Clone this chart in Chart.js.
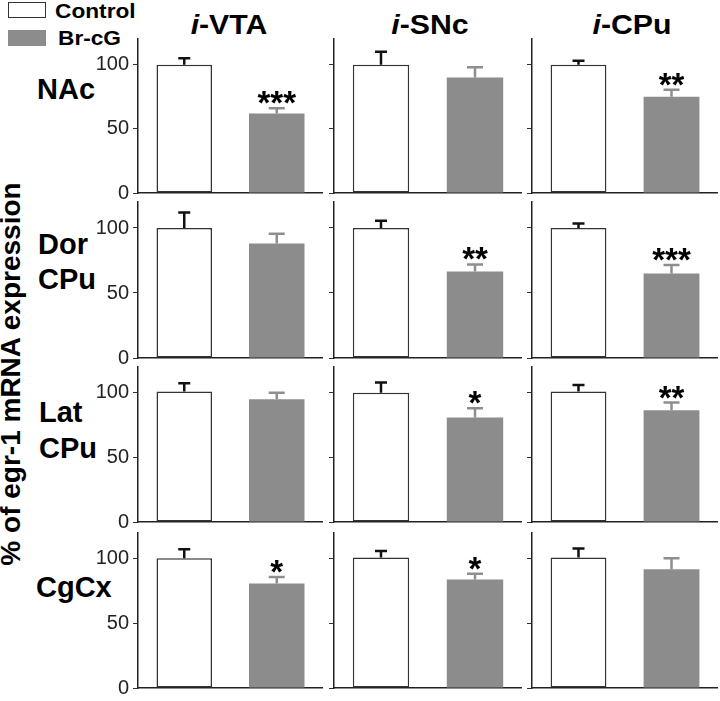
<!DOCTYPE html>
<html>
<head>
<meta charset="utf-8">
<script src="https://cdn.jsdelivr.net/npm/chart.js@4.4.1/dist/chart.umd.min.js"></script>
<style>
  body { margin: 0; background: #fff; }
  #fig { position: relative; width: 720px; height: 701px; overflow: hidden;
         font-family: "Liberation Sans", Arial, sans-serif; color: #000; }
  #fig canvas { position: absolute; }
  .txt { position: absolute; font-weight: bold; white-space: nowrap; }
  .key { position: absolute; box-sizing: border-box; }
</style>
</head>
<body>
<div id="fig"></div>
<script>
"use strict";

// Data: rows are brain regions, columns are injection sites
const regions = ["NAc", "Dor CPu", "Lat CPu", "CgCx"];
const sites = ["VTA", "SNc", "CPu"];
const groups = ["Control", "Br-cG"];
const tickValues = [0, 50, 100];
const yMax = 120;

const controlMean = [[100, 100, 100], [100, 100, 100], [101, 100, 101], [100.5, 101, 101]];
const controlErr = [[5, 10, 3], [12, 5.5, 3.5], [6.5, 8, 5], [7, 5, 7]];
const brcgMean = [[62, 90, 75], [88, 66.5, 65], [95, 81, 86.5], [81, 84, 92]];
const brcgErr = [[4, 8, 5.5], [7.5, 5.5, 6.5], [5, 7, 6], [5, 4.5, 8.5]];
const stars = [["***", "", "**"], ["", "**", "***"], ["", "*", "**"], ["*", "*", ""]];

// Layout of the panel grid (pixels)
const zeroY = [193, 358, 522, 688];
const plotH = [154, 156, 155, 155];
const axisX = [138, 334, 532];
const rightX = [323, 522, 718];
const padTop = 18, padBottom = 18;

const fig = document.getElementById("fig");

function addText(html, left, baseline, size, extra) {
  const d = document.createElement("div");
  d.className = "txt";
  d.innerHTML = html;
  d.style.fontSize = size + "px";
  d.style.lineHeight = size + "px";
  d.style.left = left + "px";
  d.style.top = (baseline - 0.8465 * size) + "px";
  if (extra) Object.assign(d.style, extra);
  fig.appendChild(d);
  return d;
}

// Legend
const boxC = document.createElement("div");
boxC.className = "key";
Object.assign(boxC.style, { left: "8px", top: "2px", width: "38px", height: "16px", border: "1.5px solid #333", background: "#fff" });
fig.appendChild(boxC);
const boxB = document.createElement("div");
boxB.className = "key";
Object.assign(boxB.style, { left: "8px", top: "30px", width: "38px", height: "16px", background: "#8c8c8c" });
fig.appendChild(boxB);
addText(groups[0], 55, 17.5, 21, { transform: "scaleX(1.08)", transformOrigin: "left" });
addText(groups[1], 58, 44.5, 21, { transform: "scaleX(1.08)", transformOrigin: "left" });

// Column titles
const titleX = [229, 430, 632];
sites.forEach((s, c) => {
  addText("<i>i</i>-" + s, titleX[c], 35, 27, { transform: "translateX(-50%) scaleX(1.12)" });
});

// Row labels
const rowLabelX = [37, 38, 39, 36];
const rowLabelBase = [[100], [255, 290], [423, 459], [598]];
regions.forEach((r, i) => {
  r.split(" ").forEach((line, j) => addText(line, rowLabelX[i], rowLabelBase[i][j], 29));
});

// Y axis title
const yTitle = document.createElement("div");
yTitle.className = "txt";
yTitle.textContent = "% of egr-1 mRNA expression";
Object.assign(yTitle.style, {
  fontSize: "28px", lineHeight: "28px", left: "10.5px", top: "373.5px",
  transform: "translate(-50%, -50%) rotate(-90deg)"
});
fig.appendChild(yTitle);

// Error bars and significance stars
const errorBarPlugin = {
  id: "errorBars",
  afterDatasetsDraw(chart, args, opts) {
    const ctx = chart.ctx;
    const yScale = chart.scales.y;
    const values = chart.data.datasets[0].data;
    chart.getDatasetMeta(0).data.forEach((bar, i) => {
      const top = yScale.getPixelForValue(values[i] + opts.errors[i]);
      const cap = opts.caps[i];
      ctx.save();
      ctx.strokeStyle = opts.colors[i];
      ctx.lineWidth = 2.5;
      ctx.beginPath();
      ctx.moveTo(bar.x, bar.y);
      ctx.lineTo(bar.x, top);
      ctx.moveTo(bar.x - cap / 2, top);
      ctx.lineTo(bar.x + cap / 2, top);
      ctx.stroke();
      if (opts.stars[i]) {
        ctx.fillStyle = "#000";
        ctx.font = "bold 33px 'Liberation Sans', Arial, sans-serif";
        ctx.textAlign = "center";
        ctx.textBaseline = "alphabetic";
        ctx.fillText(opts.stars[i], bar.x, top + 6);
      }
      ctx.restore();
    });
  }
};

function makePanel(r, c) {
  const axisW = c === 0 ? 44 : 8;
  const left = axisX[c] - axisW;
  const width = rightX[c] - left;
  const height = plotH[r] + padTop + padBottom;
  const canvas = document.createElement("canvas");
  canvas.width = width;
  canvas.height = height;
  canvas.style.left = left + "px";
  canvas.style.top = (zeroY[r] - plotH[r] - padTop) + "px";
  canvas.style.width = width + "px";
  canvas.style.height = height + "px";
  fig.appendChild(canvas);

  new Chart(canvas.getContext("2d"), {
    type: "bar",
    data: {
      labels: groups,
      datasets: [{
        data: [controlMean[r][c], brcgMean[r][c]],
        backgroundColor: ["#ffffff", "#8c8c8c"],
        borderColor: ["#333333", "#8c8c8c"],
        borderWidth: [1.5, 0],
        borderSkipped: false,
        barPercentage: 0.6,
        categoryPercentage: 1
      }]
    },
    options: {
      responsive: false,
      animation: false,
      devicePixelRatio: 1,
      layout: { padding: { top: padTop, bottom: padBottom, left: 0, right: 0 } },
      plugins: {
        legend: { display: false },
        tooltip: { enabled: false },
        errorBars: {
          errors: [controlErr[r][c], brcgErr[r][c]],
          colors: ["#111111", "#8e8e8e"],
          caps: [12, 16],
          stars: ["", stars[r][c]]
        }
      },
      scales: {
        x: {
          type: "category",
          ticks: { display: false },
          grid: { display: false },
          border: { display: true, color: "#222", width: 1.5 },
          afterFit: (scale) => { scale.height = 0; }
        },
        y: {
          min: 0,
          max: yMax,
          afterBuildTicks: (scale) => { scale.ticks = tickValues.map((v) => ({ value: v })); },
          afterFit: (scale) => { scale.width = axisW; },
          ticks: {
            color: c === 0 ? "#222" : "rgba(0,0,0,0)",
            padding: 4,
            font: { family: "'Liberation Sans', Arial", size: 20 }
          },
          grid: { drawOnChartArea: false, drawTicks: true, tickLength: 5, color: "#333", lineWidth: 1 },
          border: { display: true, color: "#222", width: 1.5 }
        }
      }
    },
    plugins: [errorBarPlugin]
  });
}

for (let r = 0; r < regions.length; r++) {
  for (let c = 0; c < sites.length; c++) {
    makePanel(r, c);
  }
}
</script>
</body>
</html>
